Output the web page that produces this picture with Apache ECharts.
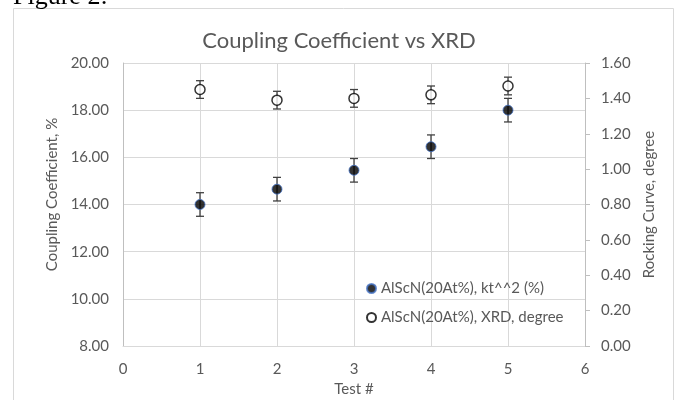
<!DOCTYPE html>
<html>
<head>
<meta charset="utf-8">
<script src="https://cdn.jsdelivr.net/npm/echarts@6/dist/echarts.min.js"></script>
<style>
  html, body { margin: 0; padding: 0; background: #fff; }
  #chart { width: 678px; height: 400px; }
</style>
</head>
<body>
<div id="chart"></div>
<script>
// test numbers
var tests = [1, 2, 3, 4, 5];
// coupling coefficient kt^2 (%) and its error
var ktValues = [14.0, 14.65, 15.45, 16.45, 18.0];
var ktErrors = [0.5, 0.5, 0.5, 0.5, 0.5];
// XRD rocking curve (degree) and its error
var xrdValues = [1.45, 1.39, 1.40, 1.42, 1.47];
var xrdErrors = [0.05, 0.05, 0.05, 0.05, 0.05];

var txtColor = '#595959';
var gridColor = '#d9d9d9';
var font = 'Lato, "Open Sans", sans-serif';

function pairs(xs, ys) {
  var out = [];
  for (var i = 0; i < xs.length; i++) out.push([xs[i], ys[i]]);
  return out;
}

function errRows(xs, ys, es) {
  var out = [];
  for (var i = 0; i < xs.length; i++) out.push([xs[i], ys[i] - es[i], ys[i] + es[i]]);
  return out;
}

// draws vertical error bar with caps using the axis scales
function renderErr(params, api) {
  var lo = api.coord([api.value(0), api.value(1)]);
  var hi = api.coord([api.value(0), api.value(2)]);
  var cap = 4;
  var st = { stroke: '#404040', lineWidth: 1.3 };
  return {
    type: 'group',
    children: [
      { type: 'line', shape: { x1: lo[0], y1: lo[1], x2: hi[0], y2: hi[1] }, style: st },
      { type: 'line', shape: { x1: lo[0] - cap, y1: lo[1], x2: lo[0] + cap, y2: lo[1] }, style: st },
      { type: 'line', shape: { x1: hi[0] - cap, y1: hi[1], x2: hi[0] + cap, y2: hi[1] }, style: st }
    ]
  };
}

var chart = echarts.init(document.getElementById('chart'), null, { renderer: 'canvas' });

var option = {
  backgroundColor: '#fff',
  animation: false,
  textStyle: { fontFamily: font },
  graphic: [
    {
      type: 'rect',
      shape: { x: 13.5, y: 8.5, width: 660, height: 400 },
      style: { fill: 'none', stroke: gridColor, lineWidth: 1 },
      z: -1
    },
    {
      type: 'text',
      left: 13,
      top: -16,
      style: { text: 'Figure 2:', font: '26px "Liberation Serif", serif', fill: '#000' }
    }
  ],
  title: {
    text: 'Coupling Coefficient vs XRD',
    left: 'center',
    top: 25,
    textStyle: { color: txtColor, fontSize: 22, fontWeight: 'normal', fontFamily: font }
  },
  grid: { left: 123, right: 93, top: 63, bottom: 54, outerBoundsMode: 'none' },
  legend: {
    data: ['AlScN(20At%), kt^^2 (%)', 'AlScN(20At%), XRD, degree'],
    orient: 'vertical',
    left: 361,
    top: 276,
    itemGap: 14,
    itemWidth: 9,
    itemHeight: 9,
    textStyle: { color: txtColor, fontSize: 15, fontFamily: font }
  },
  xAxis: {
    type: 'value',
    min: 0,
    max: 6,
    interval: 1,
    name: 'Test #',
    nameLocation: 'middle',
    nameGap: 36,
    nameTextStyle: { color: txtColor, fontSize: 15 },
    axisLine: { show: true, lineStyle: { color: gridColor } },
    axisTick: { show: false },
    axisLabel: { color: txtColor, fontSize: 15, margin: 16 },
    splitLine: { show: true, lineStyle: { color: gridColor, width: 1 } }
  },
  yAxis: [
    {
      type: 'value',
      min: 8,
      max: 20,
      interval: 2,
      name: 'Coupling Coefficient, %',
      nameLocation: 'middle',
      nameGap: 60,
      nameTextStyle: { color: txtColor, fontSize: 15, padding: [0, 0, 0, 20] },
      axisLine: { show: true, lineStyle: { color: '#bfbfbf' } },
      axisTick: { show: false },
      axisLabel: { color: txtColor, fontSize: 15, margin: 14, formatter: function (v) { return v.toFixed(2); } },
      splitLine: { show: true, lineStyle: { color: gridColor, width: 1 } }
    },
    {
      type: 'value',
      min: 0,
      max: 1.6,
      interval: 0.2,
      position: 'right',
      name: 'Rocking Curve, degree',
      nameLocation: 'middle',
      nameGap: 55,
      nameRotate: 90,
      nameTextStyle: { color: txtColor, fontSize: 15 },
      axisLine: { show: true, lineStyle: { color: '#bfbfbf' } },
      axisTick: { show: true, length: 5, lineStyle: { color: '#bfbfbf' } },
      axisLabel: { color: txtColor, fontSize: 15, margin: 16, formatter: function (v) { return v.toFixed(2); } },
      splitLine: { show: false }
    }
  ],
  series: [
    {
      type: 'custom',
      yAxisIndex: 0,
      renderItem: renderErr,
      data: errRows(tests, ktValues, ktErrors),
      encode: { x: 0, y: [1, 2] },
      silent: true,
      z: 2
    },
    {
      type: 'custom',
      yAxisIndex: 1,
      renderItem: renderErr,
      data: errRows(tests, xrdValues, xrdErrors),
      encode: { x: 0, y: [1, 2] },
      silent: true,
      z: 2
    },
    {
      name: 'AlScN(20At%), kt^^2 (%)',
      type: 'scatter',
      yAxisIndex: 0,
      symbol: 'circle',
      symbolSize: 10,
      itemStyle: { color: '#000', borderColor: '#4472c4', borderWidth: 1 },
      data: pairs(tests, ktValues),
      z: 3
    },
    {
      name: 'AlScN(20At%), XRD, degree',
      type: 'scatter',
      yAxisIndex: 1,
      symbol: 'circle',
      symbolSize: 10,
      itemStyle: { color: '#fff', borderColor: '#000', borderWidth: 1.5 },
      data: pairs(tests, xrdValues),
      z: 3
    }
  ]
};

chart.setOption(option);
</script>
</body>
</html>
